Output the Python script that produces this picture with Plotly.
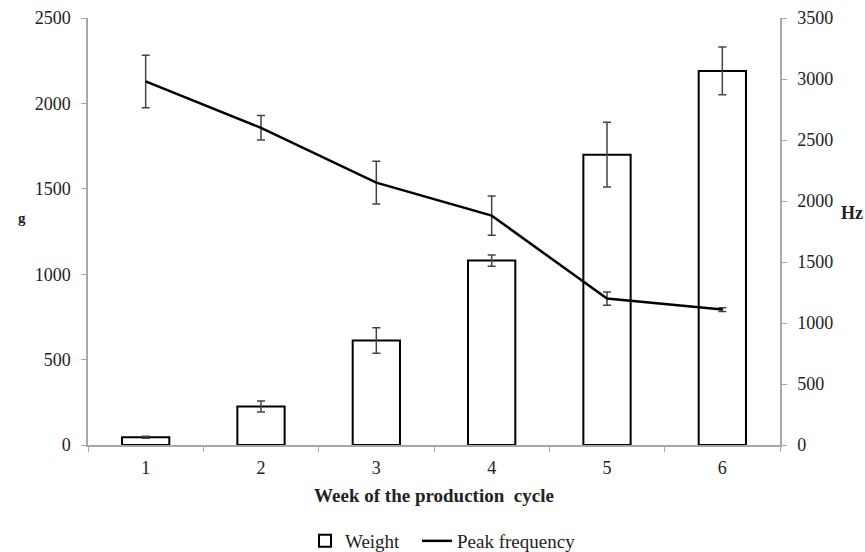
import plotly.graph_objects as go

weeks = [1, 2, 3, 4, 5, 6]
week_labels = ["1", "2", "3", "4", "5", "6"]
weight = [45, 225, 612, 1080, 1700, 2190]
weight_err = [6, 32, 75, 33, 190, 140]
peak_freq = [2980, 2600, 2150, 1880, 1200, 1110]
peak_err = [215, 100, 175, 160, 55, 15]

FONT = "Liberation Serif"
FS = 18

fig = go.Figure()
fig.add_trace(go.Bar(
    x=weeks, y=weight, name="Weight", width=0.41, showlegend=True,
    marker=dict(color="white", line=dict(color="black", width=2)),
    error_y=dict(type="data", array=weight_err, color="#444", thickness=1.5, width=4),
    yaxis="y", legend="legend",
))
fig.add_trace(go.Scatter(
    x=weeks, y=peak_freq, name="Peak frequency", mode="lines", showlegend=True,
    line=dict(color="black", width=2.5),
    error_y=dict(type="data", array=peak_err, color="#444", thickness=1.5, width=4),
    yaxis="y2", legend="legend2",
))

axis_common = dict(showgrid=False, zeroline=False, showline=True, linecolor="#a8a8a8",
                   linewidth=1.5, ticks="outside", tickcolor="#a8a8a8", ticklen=5,
                   automargin=False, ticklabelstandoff=7,
                   tickfont=dict(family=FONT, size=FS, color="#222"))

legend_common = dict(orientation="h", xanchor="left", xref="container",
                     y=1 - 541 / 552, yanchor="middle", yref="container",
                     font=dict(family=FONT, size=19, color="#222"))

fig.update_layout(
    width=865, height=552,
    margin=dict(l=88, r=85, t=18, b=107),
    plot_bgcolor="white", paper_bgcolor="white",
    showlegend=True,
    font=dict(family=FONT, size=FS, color="#222"),
    xaxis=dict(range=[0.5, 6.5], tickvals=weeks, ticktext=week_labels,
               showgrid=False, zeroline=False, showline=True, linecolor="#a8a8a8",
               linewidth=1.5, ticks="", automargin=False, ticklabelstandoff=6,
               tickfont=dict(family=FONT, size=FS, color="#222"),
               minor=dict(ticks="outside", tick0=0.5, dtick=1, ticklen=5, tickcolor="#a8a8a8"),
               title=dict(text="<b>Week of the production  cycle</b>",
                          font=dict(family=FONT, size=19, color="#222"), standoff=11)),
    yaxis=dict(range=[0, 2500], dtick=500, **axis_common),
    yaxis2=dict(range=[0, 3500], dtick=500, overlaying="y", side="right", **axis_common),
    legend=dict(x=305 / 865, visible=True, **legend_common),
    legend2=dict(x=417 / 865, visible=True, **legend_common),
    annotations=[
        dict(text="<b>g</b>", x=-0.0954, y=0.5316, xref="paper", yref="paper", showarrow=False,
             xanchor="center", yanchor="middle", font=dict(family=FONT, size=15, color="#222")),
        dict(text="<b>Hz</b>", x=1.104, y=0.543, xref="paper", yref="paper", showarrow=False,
             xanchor="center", yanchor="middle", font=dict(family=FONT, size=FS, color="#222")),
    ],
)

fig.write_html("out.html", config={"displayModeBar": False},
               post_script="document.body.style.margin='0';")
